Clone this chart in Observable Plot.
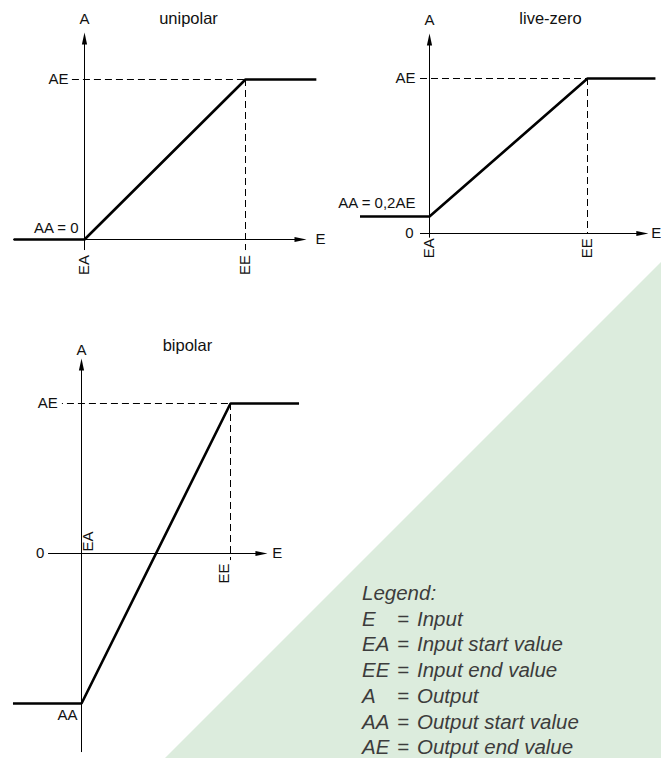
<!DOCTYPE html>
<html><head><meta charset="utf-8">
<script src="https://cdn.jsdelivr.net/npm/d3@7"></script>
<script src="https://cdn.jsdelivr.net/npm/@observablehq/plot@0.6"></script>
<style>
body{margin:0;background:#fff;}
#wrap{position:relative;width:661px;height:758px;overflow:hidden;font-family:"Liberation Sans",Arial,sans-serif;}
#tri{position:absolute;left:0;top:0;width:661px;height:758px;background:#dcecdd;clip-path:polygon(661px 262px,661px 758px,165px 758px);}
#wrap svg{position:absolute;left:0;top:0;}
#legend{position:absolute;left:362px;top:580px;font-style:italic;font-size:20.5px;line-height:25.7px;color:#3c3c3c;white-space:nowrap;}
#legend .s{display:inline-block;width:35px;}
#legend .q{display:inline-block;width:20px;}
</style></head><body><div id="wrap"><div id="tri"></div></div>
<script>
// ---- data (E = input in units of EE-EA, A = output in units of AE) ----
const titles = ["unipolar", "live-zero", "bipolar"];
// transfer curves
const uniE = [-0.44, 0, 1, 1.44];
const uniA = [0, 0, 1, 1];
const liveE = [-0.44, 0, 1, 1.43];
const liveA = [0.11, 0.11, 1, 1];
const bipE = [-0.46, 0, 1, 1.46];
const bipA = [-1, -1, 1, 1];
// axis extents [start, arrow tip]
const uniXAxis = [-0.44, 1.379], uniYAxis = [-0.069, 1.294];
const liveXAxis = [-0.057, 1.385], liveYAxis = [-0.03, 1.29];
const bipXAxis = [-0.221, 1.248], bipYAxis = [-1.327, 1.3];
// dashed guides: horizontal start (E), vertical end (A)
const uniDash = [-0.075, -0.069];
const liveDash = [-0.057, 0];
const bipDash = [-0.128, -0.047];
// labels: [text, E, A, anchor, lineAnchor, rotated]
const uniLabels = [
  ["A", 0, 1.378, "middle", "middle", false],
  ["unipolar", 0.646, 1.38, "middle", "middle", false],
  ["E", 1.435, 0, "start", "middle", false],
  ["AE", -0.1, 1, "end", "middle", false],
  ["AA = 0", -0.037, 0.07, "end", "middle", false],
  ["EA", 0, -0.16, "middle", "middle", true],
  ["EE", 1, -0.16, "middle", "middle", true]
];
const liveLabels = [
  ["A", 0, 1.374, "middle", "middle", false],
  ["live-zero", 0.766, 1.387, "middle", "middle", false],
  ["E", 1.403, 0, "start", "middle", false],
  ["AE", -0.089, 1, "end", "middle", false],
  ["AA = 0,2AE", -0.089, 0.194, "end", "middle", false],
  ["0", -0.1, 0, "end", "middle", false],
  ["EA", 0, -0.095, "middle", "middle", true],
  ["EE", 1, -0.095, "middle", "middle", true]
];
const bipLabels = [
  ["A", 0, 1.353, "middle", "middle", false],
  ["bipolar", 0.711, 1.387, "middle", "middle", false],
  ["E", 1.28, 0, "start", "middle", false],
  ["AE", -0.16, 1, "end", "middle", false],
  ["0", -0.25, 0, "end", "middle", false],
  ["AA", -0.027, -1.08, "end", "middle", false],
  ["EA", 0.007, 0.08, "middle", "top", true],
  ["EE", 0.993, -0.133, "middle", "bottom", true]
];
const legendSymbols = ["E", "EA", "EE", "A", "AA", "AE"];
const legendMeanings = ["Input", "Input start value", "Input end value", "Output", "Output start value", "Output end value"];

// ---- layout (pixel placement of each panel's scales) ----
const layouts = [
  {xr: [84, 245], yr: [239, 79], dashOffset: 0},
  {xr: [429, 587], yr: [233, 78], dashOffset: 0},
  {xr: [81, 230], yr: [553, 403], dashOffset: 6}
];

const arrowUp = {draw(c) { c.moveTo(0, 0); c.lineTo(2.6, 12); c.lineTo(-2.6, 12); c.closePath(); }};
const arrowRight = {draw(c) { c.moveTo(0, 0); c.lineTo(-12, -2.6); c.lineTo(-12, 2.6); c.closePath(); }};

function panel(E, A, xAxis, yAxis, dash, labels, lay) {
  const curve = E.map((e, i) => ({e, a: A[i]}));
  const lab = labels.map(([t, e, a, anchor, la, rot]) => ({t, e, a, anchor, la, rot}));
  const textMarks = [];
  for (const anchor of ["start", "middle", "end"]) {
    for (const la of ["middle", "top", "bottom"]) {
      for (const rot of [false, true]) {
        const sub = lab.filter(d => d.anchor === anchor && d.la === la && d.rot === rot);
        if (!sub.length) continue;
        const isTitle = d => titles.includes(d.t);
        textMarks.push(Plot.text(sub.filter(d => !isTitle(d)), {x: "e", y: "a", text: "t", textAnchor: anchor, lineAnchor: la, rotate: rot ? -90 : 0, fontSize: 15, fill: "#111"}));
        textMarks.push(Plot.text(sub.filter(isTitle), {x: "e", y: "a", text: "t", textAnchor: anchor, lineAnchor: la, rotate: rot ? -90 : 0, fontSize: 16.5, fill: "#111"}));
      }
    }
  }
  return Plot.plot({
    width: 661, height: 758, margin: 0,
    x: {type: "linear", domain: [0, 1], range: lay.xr, axis: null},
    y: {type: "linear", domain: [0, 1], range: lay.yr, axis: null},
    style: {background: "transparent", overflow: "visible", fontFamily: "'Liberation Sans', Arial, sans-serif"},
    marks: [
      Plot.ruleY([{a: 1, e1: dash[0], e2: 1}], {y: "a", x1: "e1", x2: "e2", stroke: "#000", strokeWidth: 1, strokeDasharray: "7,4", strokeDashoffset: lay.dashOffset}),
      Plot.ruleX([{e: 1, a1: 1, a2: dash[1]}], {x: "e", y1: "a1", y2: "a2", stroke: "#000", strokeWidth: 1, strokeDasharray: "7,4"}),
      Plot.ruleY([{a: 0, e1: xAxis[0], e2: xAxis[1] - 0.03}], {y: "a", x1: "e1", x2: "e2", stroke: "#000", strokeWidth: 1}),
      Plot.ruleX([{e: 0, a1: yAxis[0], a2: yAxis[1] - 0.03}], {x: "e", y1: "a1", y2: "a2", stroke: "#000", strokeWidth: 1}),
      Plot.dot([{e: xAxis[1], a: 0}], {x: "e", y: "a", symbol: arrowRight, fill: "#000", stroke: "none"}),
      Plot.dot([{e: 0, a: yAxis[1]}], {x: "e", y: "a", symbol: arrowUp, fill: "#000", stroke: "none"}),
      Plot.line(curve, {x: "e", y: "a", stroke: "#000", strokeWidth: 2.6, strokeLinejoin: "miter", strokeLinecap: "butt"}),
      ...textMarks
    ]
  });
}

const wrap = document.getElementById("wrap");
wrap.appendChild(panel(uniE, uniA, uniXAxis, uniYAxis, uniDash, uniLabels, layouts[0]));
wrap.appendChild(panel(liveE, liveA, liveXAxis, liveYAxis, liveDash, liveLabels, layouts[1]));
wrap.appendChild(panel(bipE, bipA, bipXAxis, bipYAxis, bipDash, bipLabels, layouts[2]));

const legend = document.createElement("div");
legend.id = "legend";
const head = document.createElement("div");
head.textContent = "Legend:";
legend.appendChild(head);
legendSymbols.forEach((s, i) => {
  const row = document.createElement("div");
  const a = document.createElement("span"); a.className = "s"; a.textContent = s;
  const b = document.createElement("span"); b.className = "q"; b.textContent = "=";
  const c = document.createElement("span"); c.textContent = legendMeanings[i];
  row.append(a, b, c);
  legend.appendChild(row);
});
wrap.appendChild(legend);
</script></body></html>
